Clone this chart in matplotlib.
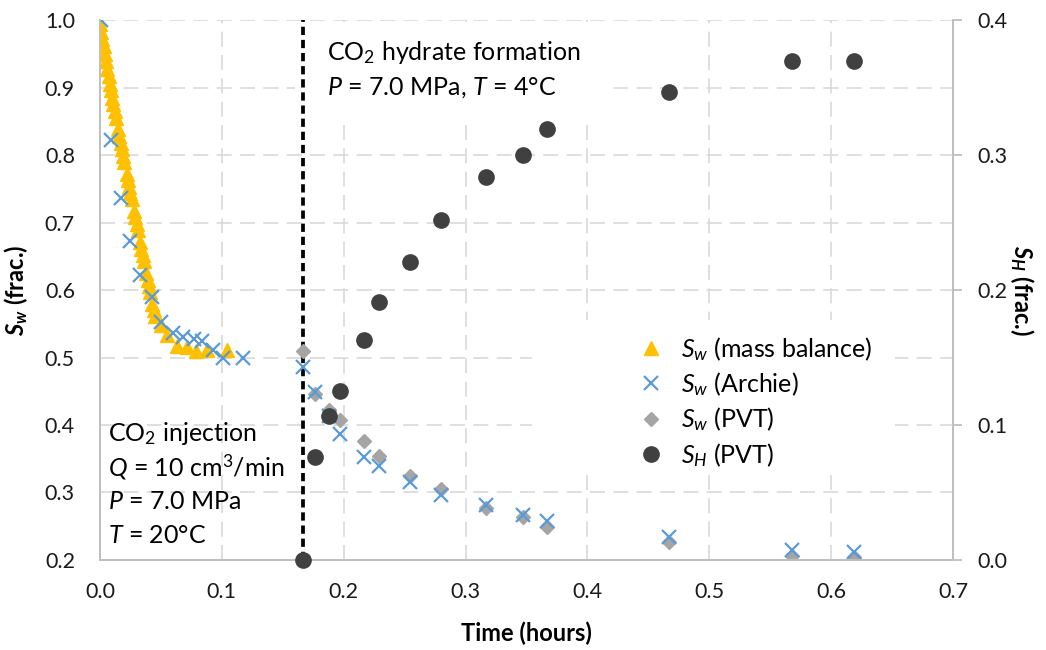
import matplotlib
matplotlib.use("Agg")
import matplotlib.pyplot as plt
from matplotlib.patches import Rectangle

plt.rcParams['font.family'] = ['Lato', 'DejaVu Sans']
plt.rcParams['mathtext.fontset'] = 'custom'
plt.rcParams['mathtext.rm'] = 'Lato'
plt.rcParams['mathtext.it'] = 'Lato:italic'
plt.rcParams['mathtext.bf'] = 'Lato:bold'
try:
    plt.rcParams['mathtext.bfit'] = 'Lato:bold:italic'
except KeyError:
    pass

# S_w from mass balance (injection stage)
t_mb = [0.000, 0.001, 0.002, 0.003, 0.004, 0.005, 0.006, 0.007, 0.008, 0.009,
        0.010, 0.011, 0.012, 0.013, 0.015, 0.016, 0.017, 0.018, 0.019, 0.020,
        0.022, 0.023, 0.024, 0.025, 0.026, 0.028, 0.029, 0.030, 0.031, 0.033,
        0.034, 0.035, 0.036, 0.038, 0.039, 0.040, 0.041, 0.043, 0.044, 0.045,
        0.050, 0.055, 0.063, 0.071, 0.079, 0.088, 0.104]
sw_mb = [0.995, 0.983, 0.972, 0.961, 0.950, 0.939, 0.928, 0.917, 0.906, 0.896,
         0.885, 0.875, 0.865, 0.855, 0.838, 0.828, 0.818, 0.809, 0.799, 0.790,
         0.772, 0.763, 0.753, 0.744, 0.735, 0.717, 0.708, 0.698, 0.689, 0.671,
         0.661, 0.652, 0.643, 0.625, 0.615, 0.606, 0.597, 0.580, 0.571, 0.562,
         0.548, 0.533, 0.517, 0.516, 0.509, 0.511, 0.511]

# S_w from Archie
t_archie = [0.0006, 0.009, 0.017, 0.025, 0.033, 0.0425, 0.050, 0.060, 0.068,
            0.077, 0.0835, 0.0925, 0.1007, 0.117,
            0.1666, 0.1767, 0.1876, 0.1972, 0.2169, 0.2293, 0.2547, 0.280,
            0.317, 0.347, 0.367, 0.467, 0.5675, 0.6185]
sw_archie = [1.000, 0.822, 0.737, 0.673, 0.622, 0.590, 0.553, 0.536, 0.531,
             0.528, 0.524, 0.511, 0.499, 0.499,
             0.486, 0.449, 0.413, 0.387, 0.353, 0.339, 0.315, 0.297,
             0.281, 0.267, 0.258, 0.234, 0.215, 0.212]

# hydrate formation stage (PVT)
t_pvt = [0.1666, 0.1767, 0.1876, 0.1972, 0.2169, 0.2293, 0.2547, 0.280,
         0.317, 0.347, 0.367, 0.467, 0.5675, 0.6185]
sw_pvt = [0.510, 0.446, 0.422, 0.407, 0.376, 0.354, 0.324, 0.305,
          0.277, 0.264, 0.249, 0.226, 0.206, 0.205]
sh_pvt = [0.000, 0.076, 0.107, 0.125, 0.163, 0.191, 0.221, 0.252,
          0.284, 0.300, 0.319, 0.347, 0.370, 0.370]

t_hydrate = 0.1666

fig = plt.figure(figsize=(10.46, 6.5), dpi=100)
ax = fig.add_axes([0.0956, 0.1385, 0.8155, 0.8305])
ax2 = ax.twinx()

ax.set_xlim(0, 0.7)
ax.set_ylim(0.2, 1.0)
ax2.set_ylim(0, 0.4)
ax.set_xticks([0.0, 0.1, 0.2, 0.3, 0.4, 0.5, 0.6, 0.7])
ax.set_yticks([0.2, 0.3, 0.4, 0.5, 0.6, 0.7, 0.8, 0.9, 1.0])
ax2.set_yticks([0.0, 0.1, 0.2, 0.3, 0.4])
ax.xaxis.set_major_formatter(matplotlib.ticker.FormatStrFormatter('%.1f'))
ax.yaxis.set_major_formatter(matplotlib.ticker.FormatStrFormatter('%.1f'))
ax2.yaxis.set_major_formatter(matplotlib.ticker.FormatStrFormatter('%.1f'))

ax.set_axisbelow(True)
ax.grid(True, color='#d9d9d9', linestyle=(0, (9, 5)), linewidth=1.2)

for a in (ax, ax2):
    a.spines['top'].set_visible(False)
    for s in ['left', 'right', 'bottom']:
        a.spines[s].set_color('#bfbfbf')
        a.spines[s].set_linewidth(1.3)

ax.tick_params(axis='both', length=0, labelsize=15.5, labelcolor='#1a1a1a')
ax.tick_params(axis='x', pad=16)
ax.tick_params(axis='y', pad=18)
ax2.tick_params(axis='y', length=6.5, width=1.3, color='#bfbfbf', labelsize=15.5,
                labelcolor='#1a1a1a', pad=11)

# white boxes behind the annotation and legend
ax.add_patch(Rectangle((0.2286, 0.820), 0.370, 0.176, transform=ax.transAxes,
                       facecolor='white', edgecolor='none', zorder=1))
ax.add_patch(Rectangle((0.506, 0.167), 0.426, 0.277, transform=ax.transAxes,
                       facecolor='white', edgecolor='none', zorder=1))

ax.axvline(t_hydrate, color='black', linestyle=(0, (2.2, 1.3)), linewidth=2.7, zorder=3)

h1, = ax.plot(t_mb, sw_mb, linestyle='none', marker='^', ms=10.5, color='#ffc000',
              mec='#ffc000', zorder=4)
h2, = ax.plot(t_archie, sw_archie, linestyle='none', marker='x', ms=10,
              mew=1.6, color='#5b9bd5', zorder=6)
h3, = ax.plot(t_pvt, sw_pvt, linestyle='none', marker='D', ms=7, color='#a5a5a5',
              zorder=5)
h4, = ax2.plot(t_pvt, sh_pvt, linestyle='none', marker='o', ms=11, color='#404040',
               clip_on=False, zorder=4)

leg = ax2.legend([h1, h2, h3, h4],
                 [r'$S_w$ (mass balance)', r'$S_w$ (Archie)', r'$S_w$ (PVT)', r'$S_H$ (PVT)'],
                 loc='upper left', bbox_to_anchor=(0.618, 0.44), frameon=False,
                 fontsize=18, handlelength=0.9, handletextpad=0.75, labelspacing=0.3,
                 borderpad=0)

ax.text(0.266, 0.94, r'CO$_2$ hydrate formation', transform=ax.transAxes,
        fontsize=18, va='center', ha='left', zorder=7)
ax.text(0.266, 0.875, r'$P$ = 7.0 MPa, $T$ = 4°C', transform=ax.transAxes,
        fontsize=18, va='center', ha='left', zorder=7)

lines_inj = [r'CO$_2$ injection', r'$Q$ = 10 cm$^3$/min', r'$P$ = 7.0 MPa', r'$T$ = 20°C']
for i, s in enumerate(lines_inj):
    ax.text(0.0094, 0.235 - i * 0.0635, s, transform=ax.transAxes,
            fontsize=18, va='center', ha='left', zorder=7)

ax.set_xlabel('Time (hours)', fontsize=17, fontweight='bold', labelpad=14)
ax.set_ylabel(r'$\mathbfit{S_w}$ (frac.)', fontsize=17, fontweight='bold')
ax2.set_ylabel(r'$\mathbfit{S_H}$ (frac.)', fontsize=17, fontweight='bold',
               rotation=270, va='center')
ax.yaxis.set_label_coords(-0.082, 0.5)
ax2.yaxis.set_label_coords(1.081, 0.5)

fig.savefig('out.png', dpi=100)
